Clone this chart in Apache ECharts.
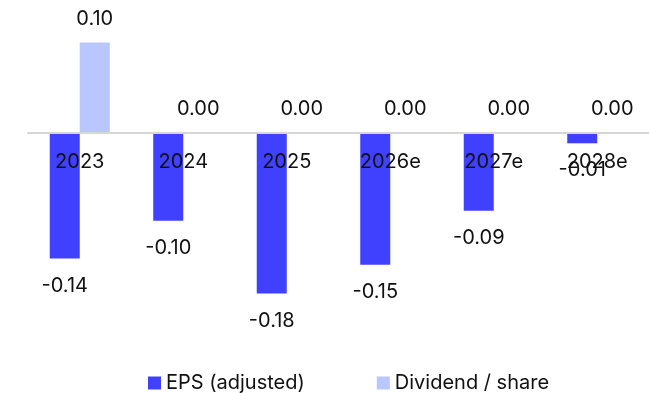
<!DOCTYPE html>
<html>
<head>
<meta charset="utf-8">
<script src="https://cdn.jsdelivr.net/npm/echarts@6/dist/echarts.min.js"></script>
<style>
html,body{margin:0;padding:0;background:#fff;}
#chart{width:649px;height:393px;}
</style>
</head>
<body>
<div id="chart"></div>
<script>
const categories = ['2023', '2024', '2025', '2026e', '2027e', '2028e'];
const epsAdjusted = [-0.14, -0.098, -0.179, -0.147, -0.087, -0.012];
const dividendPerShare = [0.10, 0.00, 0.00, 0.00, 0.00, 0.00];

const FONT = 'Inter';
const Y_MIN = -0.2, Y_MAX = 0.12, GRID_TOP = 24.5, GRID_BOTTOM = 80.5;
const gridH = 393 - GRID_TOP - GRID_BOTTOM;
const zeroOffset = -gridH * (0 - Y_MIN) / (Y_MAX - Y_MIN);

const chart = echarts.init(document.getElementById('chart'));
chart.setOption({
  animation: false,
  textStyle: { fontFamily: FONT },
  grid: { left: 28, right: -3, top: GRID_TOP, bottom: GRID_BOTTOM, containLabel: false },
  legend: {
    left: 143, top: 368,
    itemWidth: 13, itemHeight: 13, itemGap: 72,
    icon: 'rect',
    textStyle: { fontFamily: FONT, fontSize: 20, color: '#111' },
    data: ['EPS (adjusted)', 'Dividend / share']
  },
  xAxis: {
    type: 'category',
    data: categories,
    offset: zeroOffset,
    z: 10,
    axisLine: { onZero: false, lineStyle: { color: '#d6d6d6', width: 2 } },
    axisTick: { show: false },
    axisLabel: { fontFamily: FONT, fontSize: 20, color: '#111', margin: 19 }
  },
  yAxis: {
    type: 'value', min: Y_MIN, max: Y_MAX,
    show: false,
    splitLine: { show: false }
  },
  series: [
    {
      name: 'EPS (adjusted)', type: 'bar', data: epsAdjusted,
      barWidth: 30, barGap: '0%',
      itemStyle: { color: '#4040ff' },
      label: { show: true, position: 'bottom', distance: 17, fontFamily: FONT, fontSize: 20, color: '#111',
        formatter: p => p.value.toFixed(2) }
    },
    {
      name: 'Dividend / share', type: 'bar', data: dividendPerShare,
      barWidth: 30,
      itemStyle: { color: '#bac6ff' },
      label: { show: true, position: 'top', distance: 14, fontFamily: FONT, fontSize: 20, color: '#111',
        formatter: p => p.value.toFixed(2) }
    }
  ]
});
</script>
</body>
</html>
